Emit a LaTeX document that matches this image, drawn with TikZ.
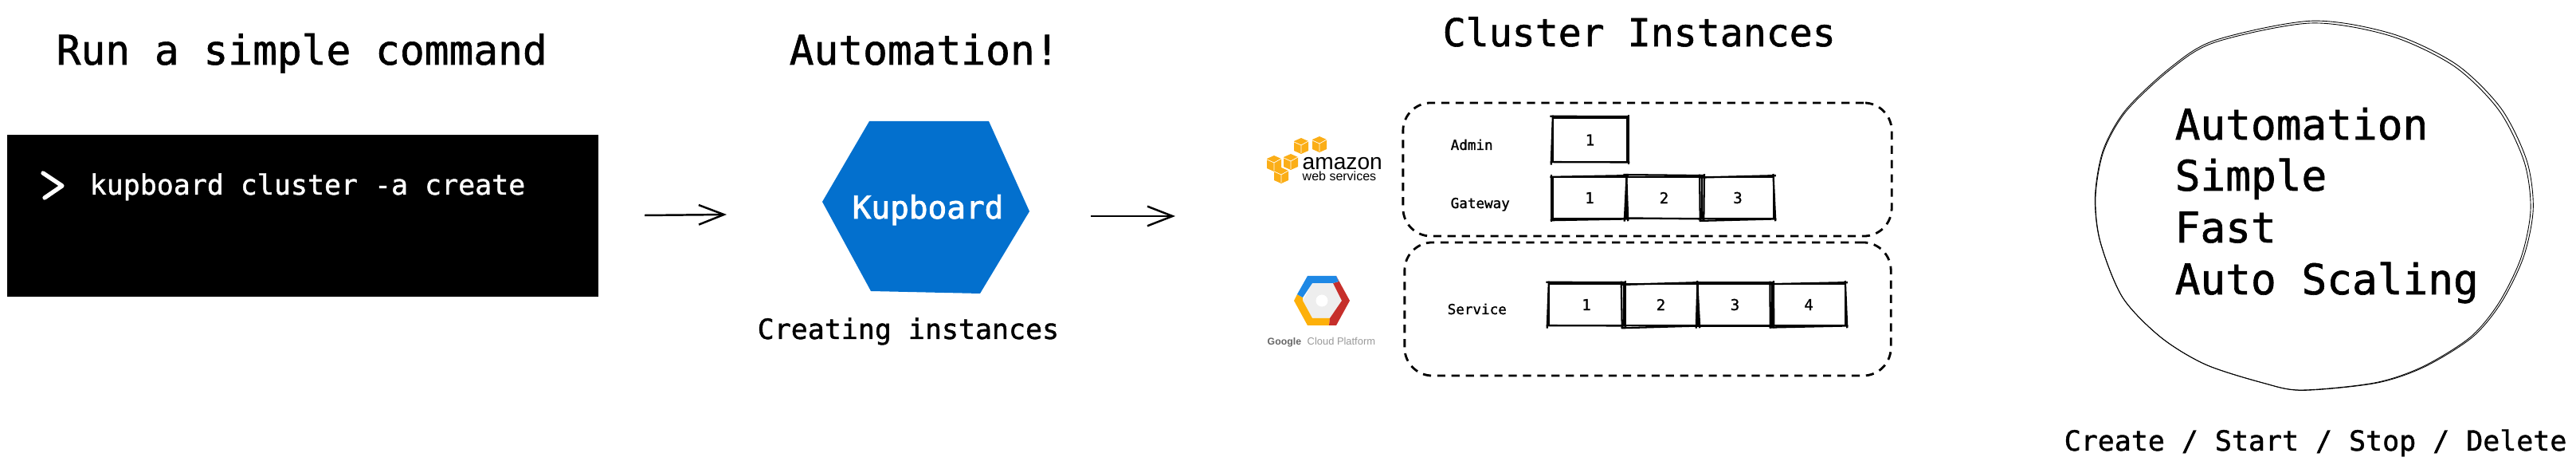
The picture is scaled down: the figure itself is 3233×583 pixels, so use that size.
\documentclass[tikz,border=0pt]{standalone}
\usepackage{fontspec}
\setmonofont[FakeBold=1.2]{DejaVu Sans Mono}
\newfontfamily\kupfont[FakeBold=2.2]{DejaVu Sans Mono}
\newfontfamily\logofont{Liberation Sans}
\usetikzlibrary{arrows.meta}
\definecolor{kup_blue}{HTML}{0370CE}
\definecolor{aws_yellow}{HTML}{FBAE17}
\definecolor{gcp_blue}{HTML}{1E88E5}
\definecolor{gcp_red}{HTML}{C62F2B}
\definecolor{gcp_yellow}{HTML}{FDB00A}
\definecolor{gcp_grey}{HTML}{EEEEEE}

\begin{document}
\begin{tikzpicture}
  [x=.01cm,y=-.01cm]
  \tikzstyle{label_style} = [inner sep=0, anchor=base west, font=\ttfamily]
  \tikzstyle{title_style} = [label_style, font=\ttfamily\fontsize{14.55}{16}\selectfont]
  \tikzstyle{text_style} = [label_style, font=\ttfamily\fontsize{9.93}{12}\selectfont]
  \tikzstyle{big_style} = [label_style, font=\ttfamily\fontsize{15}{18}\selectfont]
  \tikzstyle{small_style} = [label_style, font=\ttfamily\fontsize{5}{6}\selectfont]
  \tikzstyle{cell_style} = [draw=black, line width=.65pt, inner sep=0, font=\ttfamily\fontsize{5.4}{6}\selectfont]
  \tikzstyle{cell_stroke} = [draw=black, line width=.65pt]
  \tikzstyle{group_style} = [draw=black, line width=.8pt, rounded corners=.35cm, dash pattern=on 2.9pt off 2.2pt, inner sep=0]
  \tikzstyle{edge_style} = [draw=black, line width=.7pt, -{Straight Barb[length=9pt,width=7pt]}]
  \tikzstyle{blob_style} = [draw=black, line width=.25pt]
  \useasboundingbox (0,0) rectangle (3233,583);

  % command
  \node[title_style] (title_run) at (70,81) {Run a simple command};
  \node[fill=black, inner sep=0, minimum width=7.42cm, minimum height=2.03cm] (terminal) at (380,270.5) {};
  \draw[white, line width=1.5pt, line cap=round, line join=round] (54,217) -- (78,233) -- (56,248);
  \node[text_style, text=white] (command) at (112,244) {kupboard cluster -a create};

  % kupboard
  \node[title_style] (title_auto) at (990,81) {Automation!};
  \fill[kup_blue] (1091,152) -- (1241,152) -- (1292,265) -- (1230,368) -- (1093,365) -- (1032,253) -- cycle;
  \node[label_style, text=white, font=\kupfont\fontsize{11.2}{13}\selectfont] (kupboard) at (1069,274) {Kupboard};
  \node[text_style] (creating) at (950,425) {Creating instances};

  \coordinate (arrow_a1) at (809,270);
  \coordinate (arrow_a2) at (912,269);
  \coordinate (arrow_b1) at (1369,271);
  \coordinate (arrow_b2) at (1475,271);
  \draw[edge_style] (arrow_a1) -- (arrow_a2);
  \draw[edge_style] (arrow_b1) -- (arrow_b2);

  % instances
  \node[label_style, font=\ttfamily\fontsize{13.7}{16}\selectfont] (title_cluster) at (1810,58) {Cluster Instances};
  \node[group_style, minimum width=6.13cm, minimum height=1.67cm] (group_aws) at (2067.5,212.5) {};
  \node[group_style, minimum width=6.10cm, minimum height=1.67cm] (group_gcp) at (2068,387.5) {};

  \node[small_style] (admin) at (1820,188) {Admin};
  \node[small_style] (gateway) at (1820,261) {Gateway};
  \node[small_style] (service) at (1816,394) {Service};

  \node[cell_style, minimum width=.93cm, minimum height=.55cm] (a1) at (1995.5,175.5) {1};
  \node[cell_style, minimum width=.92cm, minimum height=.52cm] (g1) at (1995,248) {1};
  \node[cell_style, minimum width=.95cm, minimum height=.52cm] (g2) at (2088.5,248) {2};
  \node[cell_style, minimum width=.90cm, minimum height=.52cm] (g3) at (2181,248) {3};
  \node[cell_style, minimum width=.94cm, minimum height=.52cm] (s1) at (1991,382) {1};
  \node[cell_style, minimum width=.93cm, minimum height=.52cm] (s2) at (2084.5,382) {2};
  \node[cell_style, minimum width=.93cm, minimum height=.52cm] (s3) at (2177.5,382) {3};
  \node[cell_style, minimum width=.92cm, minimum height=.52cm] (s4) at (2270,382) {4};

  % second pass over the cells
  \foreach \cell/\t in {a1/.3, g1/-.3, g2/.5, g3/-.5, s1/.3, s2/-.6, s3/.2, s4/-.4} {
    \draw[cell_stroke] ([xshift=-.7pt,yshift=\t pt]\cell.north west) -- ([xshift=.5pt,yshift=.2pt]\cell.north east);
    \draw[cell_stroke] ([xshift=\t pt,yshift=.8pt]\cell.north east) -- ([xshift=.3pt,yshift=-.6pt]\cell.south east);
    \draw[cell_stroke] ([xshift=.6pt,yshift=.2pt]\cell.south east) -- ([xshift=-.6pt,yshift=\t pt]\cell.south west);
    \draw[cell_stroke] ([xshift=-.3pt,yshift=-.7pt]\cell.south west) -- ([xshift=\t pt,yshift=.6pt]\cell.north west);
  }

  % aws logo
  \foreach \cx/\cy in {1633/183, 1656/181, 1599/205, 1620/203, 1608/220} {
    \begin{scope}[shift={(\cx,\cy)}]
      \fill[aws_yellow] (0,-10) -- (9,-6) -- (9,6) -- (0,10) -- (-9,6) -- (-9,-6) -- cycle;
      \draw[white, line width=.2pt] (-9,-5) -- (0,-1) -- (9,-6) (0,-1) -- (0,9);
    \end{scope}
  }
  \node[label_style, font=\logofont\fontsize{8}{9}\selectfont] (amazon) at (1634,213) {amazon};
  \node[label_style, font=\logofont\fontsize{4.55}{5}\selectfont] (webservices) at (1634,227) {web services};

  % gcp logo
  \fill[gcp_grey] (1647,355) -- (1673,355) -- (1684,377) -- (1669,399) -- (1647,399) -- (1635,377) -- cycle;
  \fill[white] (1659,377) circle (7.5);
  \fill[gcp_yellow] (1628,369) -- (1635,373) -- (1635,377) -- (1647,399) -- (1669,399) -- (1668,408) -- (1641,408) -- (1624,377) -- cycle;
  \fill[gcp_red] (1677,346) -- (1694,377) -- (1677,408) -- (1668,408) -- (1669,399) -- (1684,377) -- (1673,355) -- (1680,353) -- cycle;
  \fill[gcp_blue] (1641,346) -- (1677,346) -- (1680,353) -- (1673,355) -- (1647,355) -- (1635,373) -- (1628,369) -- cycle;
  \node[label_style, text=black!60, font=\logofont\bfseries\fontsize{3.5}{4}\selectfont] (google) at (1590,433) {Google};
  \node[label_style, text=black!40, font=\logofont\fontsize{3.67}{4}\selectfont] (cloudplatform) at (1640,433) {Cloud Platform};

  % benefits
  \foreach \s/\dx/\dy in {1/0/0, 1.007/-19/-3} {
    \draw[blob_style, shift={(\dx,\dy)}, scale=\s] plot[smooth cycle] coordinates {(2900,29) (3000,45) (3080,83) (3136,138) (3168,203) (3176,263) (3164,323) (3136,380) (3100,423) (3040,460) (2980,480) (2888,489) (2840,480) (2768,457) (2712,423) (2664,373) (2636,303) (2630,247) (2640,190) (2668,140) (2724,87) (2780,53)};
  }
  \node[big_style] (automation) at (2729,175) {Automation};
  \node[big_style] (simple) at (2729,239) {Simple};
  \node[big_style] (fast) at (2729,304) {Fast};
  \node[big_style] (scaling) at (2729,369) {Auto Scaling};
  \node[text_style] (actions) at (2590,565) {Create / Start / Stop / Delete};
\end{tikzpicture}
\end{document}
